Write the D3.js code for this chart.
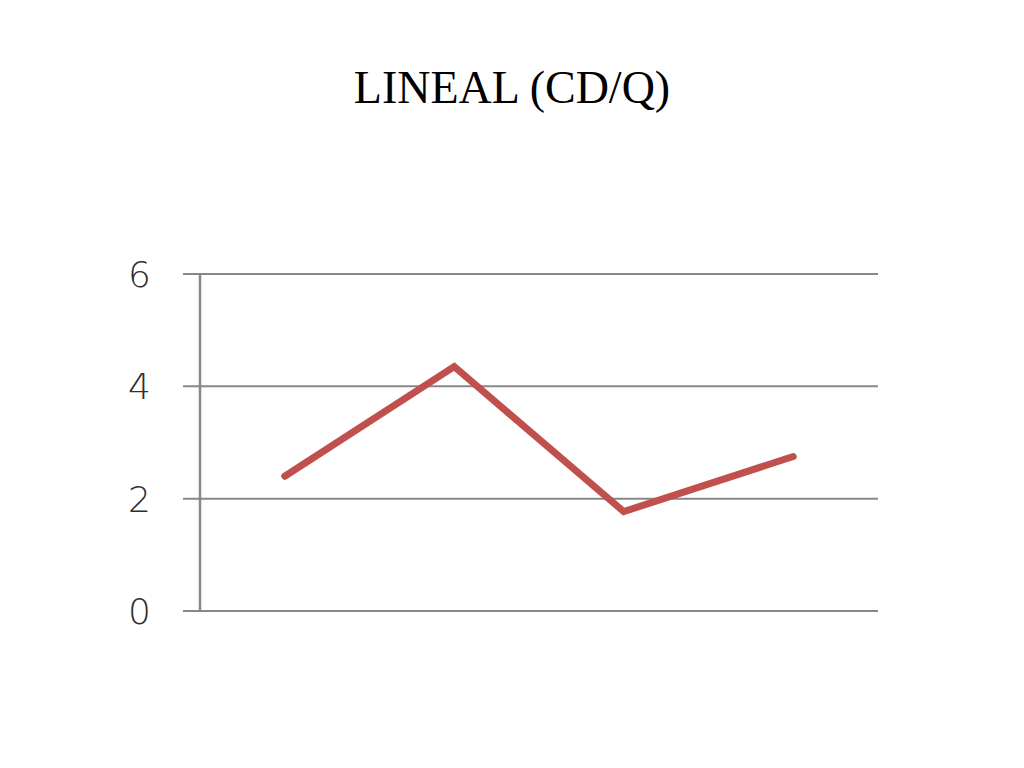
<!DOCTYPE html>
<html><head><meta charset="utf-8">
<script src="https://cdn.jsdelivr.net/npm/d3@7"></script>
<style>body{margin:0;background:#fff;}svg{display:block;}</style>
</head><body>
<svg id="c" width="1024" height="768"></svg>
<script>
const categories = ["1", "2", "3", "4"];
const values = [2.4, 4.35, 1.77, 2.75];
const yTicks = [0, 2, 4, 6];
const title = "LINEAL (CD/Q)";

const svg = d3.select("#c");
const m = {left: 200, right: 878, top: 274, bottom: 611};
const x = d3.scaleBand().domain(categories).range([m.left, m.right]);
const y = d3.scaleLinear().domain([0, 6]).range([m.bottom, m.top]);

svg.append("text").attr("x", 512).attr("y", 103).attr("text-anchor", "middle")
  .attr("font-family", "Liberation Serif, Times New Roman, serif").attr("font-size", 46)
  .attr("fill", "#000").text(title);

// gridlines
svg.append("g").selectAll("line").data(yTicks).join("line")
  .attr("x1", m.left - 17).attr("x2", m.right)
  .attr("y1", d => y(d)).attr("y2", d => y(d))
  .attr("stroke", "#878787").attr("stroke-width", 2);

// y axis line
svg.append("line").attr("x1", m.left).attr("x2", m.left)
  .attr("y1", y(6)).attr("y2", y(0)).attr("stroke", "#878787").attr("stroke-width", 2.5);

// labels
svg.append("g").selectAll("text").data(yTicks).join("text")
  .attr("x", 151).attr("y", d => y(d)).attr("dy", "0.36em")
  .attr("text-anchor", "end")
  .attr("font-family", "DejaVu Sans, Verdana, sans-serif").attr("font-size", 36)
  .attr("font-weight", 300)
  .attr("fill", "#2e2e2e").text(d => d);

const line = d3.line().x((d, i) => x(categories[i]) + x.bandwidth() / 2).y(d => y(d));
svg.append("path").datum(values).attr("d", line)
  .attr("fill", "none").attr("stroke", "#c0504d").attr("stroke-width", 7)
  .attr("stroke-linejoin", "miter").attr("stroke-linecap", "round");
</script>
</body></html>
